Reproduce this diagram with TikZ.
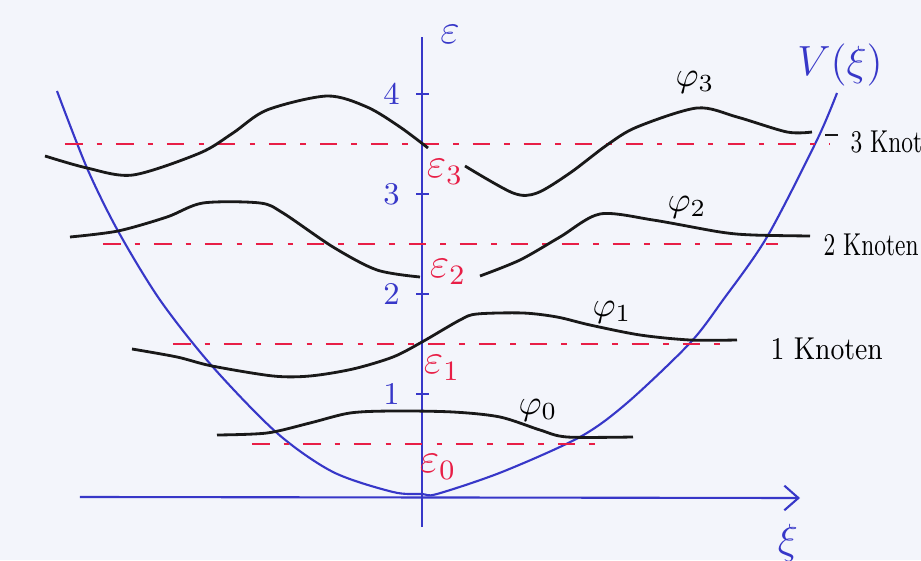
\documentclass[tikz,border=0pt]{standalone}
\usepackage{amsmath,amssymb}
\usepackage{graphicx}
\usepackage{tikz}
\usetikzlibrary{arrows.meta}
\definecolor{penblue}{RGB}{55,55,200}
\definecolor{penred}{RGB}{232,30,70}
\definecolor{paper}{RGB}{243,245,251}

\begin{document}
\begin{tikzpicture}[>=Stealth,
  pen/.style={penblue,line width=0.6pt},
  wave/.style={black!90,line width=0.8pt},
  level/.style={penred,line width=0.8pt,dash pattern=on 5pt off 4pt on 1.5pt off 4pt}]
  \fill[paper] (-4.22,-0.66) rectangle (4.99,4.94);
  \useasboundingbox (-4.22,-0.66) rectangle (4.99,4.94);
  % axes
  \coordinate (O) at (0,0);
  \coordinate (Etop) at (0,4.57);
  \coordinate (Ebot) at (0,-0.33);
  \coordinate (Xl) at (-3.42,-0.03);
  \coordinate (Xr) at (3.78,-0.04);
  \draw[pen] (Ebot) -- (Etop);
  \draw[pen,-{Straight Barb[length=4pt,width=7pt]}] (Xl) -- (Xr);
  \node[penblue,font=\large] (eps) at (0.28,4.6) {$\varepsilon$};
  \node[penblue,font=\large] (xi) at (3.66,-0.49) {$\xi$};
  \foreach \e in {1,2,3,4} {
    \draw[pen] (-0.06,\e) -- (0.07,\e);
    \node[penblue,left,font=\small] (t\e) at (-0.1,\e) {\e};
  }
  % potential
  \draw[pen] plot[smooth] coordinates {(-3.65,4.03) (-3.35,3.26) (-3.04,2.63)
    (-2.62,1.94) (-2.10,1.28) (-1.45,0.61) (-0.89,0.22) (-0.29,0.02) (0,0)
    (0.15,0) (0.8,0.22) (1.58,0.57) (2.05,0.91) (2.68,1.51) (3.01,1.94)
    (3.45,2.57) (3.95,3.54) (4.15,4.01)};
  \node[penblue,font=\large] (V) at (4.18,4.29) {$V(\xi)$};
  % energy levels
  \foreach \n/\l/\r/\x/\y in {0/-1.70/1.86/0.16/0.27, 1/-2.49/3.01/0.2/1.26,
                             2/-3.19/3.56/0.26/2.22, 3/-3.57/4.08/0.23/3.22} {
    \draw[level] (\l,\n+0.5) -- (\r,\n+0.5);
    \node[penred,font=\large] (e\n) at (\x,\y) {$\varepsilon_\n$};
  }
  % wave functions
  \draw[wave] plot[smooth] coordinates {(-2.05,0.59) (-1.55,0.61) (-1.12,0.71)
    (-0.72,0.81) (-0.29,0.83) (0.31,0.82) (0.78,0.77) (1.18,0.64) (1.45,0.57)
    (2.11,0.57)};
  \draw[wave] plot[smooth] coordinates {(-2.90,1.45) (-2.45,1.37) (-2.10,1.28)
    (-1.49,1.18) (-1.12,1.18) (-0.69,1.25) (-0.29,1.37) (0,1.52) (0.38,1.74)
    (0.55,1.80) (1.01,1.81) (1.35,1.77) (1.68,1.69) (2.18,1.59) (2.68,1.54)
    (3.15,1.54)};
  \draw[wave] plot[smooth] coordinates {(-3.52,2.57) (-3.04,2.63) (-2.55,2.77)
    (-2.19,2.91) (-1.62,2.91) (-1.39,2.81) (-0.89,2.47) (-0.45,2.24) (-0.02,2.17)};
  \draw[wave] plot[smooth] coordinates {(0.58,2.18) (0.98,2.34) (1.38,2.57)
    (1.78,2.80) (2.31,2.74) (2.98,2.62) (3.31,2.59) (3.88,2.58)};
  \draw[wave] plot[smooth] coordinates {(-3.77,3.38) (-3.35,3.26) (-2.89,3.19)
    (-2.22,3.41) (-1.89,3.61) (-1.55,3.84) (-0.95,3.98) (-0.55,3.87)
    (-0.22,3.67) (0.06,3.46)};
  \draw[wave] plot[smooth] coordinates {(0.43,3.28) (0.91,3.01) (1.15,3.01)
    (1.48,3.21) (1.85,3.49) (2.15,3.67) (2.75,3.86) (3.15,3.77) (3.65,3.62)
    (3.90,3.62)};
  \node (p0) at (1.16,0.84) {$\varphi_0$};
  \node (p1) at (1.90,1.82) {$\varphi_1$};
  \node (p2) at (2.65,2.87) {$\varphi_2$};
  \node (p3) at (2.73,4.12) {$\varphi_3$};
  % nodes
  \node[right,font=\small,inner sep=0pt] (k1) at (3.48,1.45) {\scalebox{0.85}[1]{1 Knoten}};
  \node[right,font=\small,inner sep=0pt] (k2) at (4.01,2.49) {\scalebox{0.72}[1]{2 Knoten}};
  \node[right,font=\small,inner sep=0pt] (k3) at (4.28,3.52) {\scalebox{0.72}[1]{3 Knoten}};
  \draw[black!90,line width=0.6pt] ([xshift=-0.12cm,yshift=0.07cm]k3.west) -- ++(-0.13,0);
\end{tikzpicture}
\end{document}
